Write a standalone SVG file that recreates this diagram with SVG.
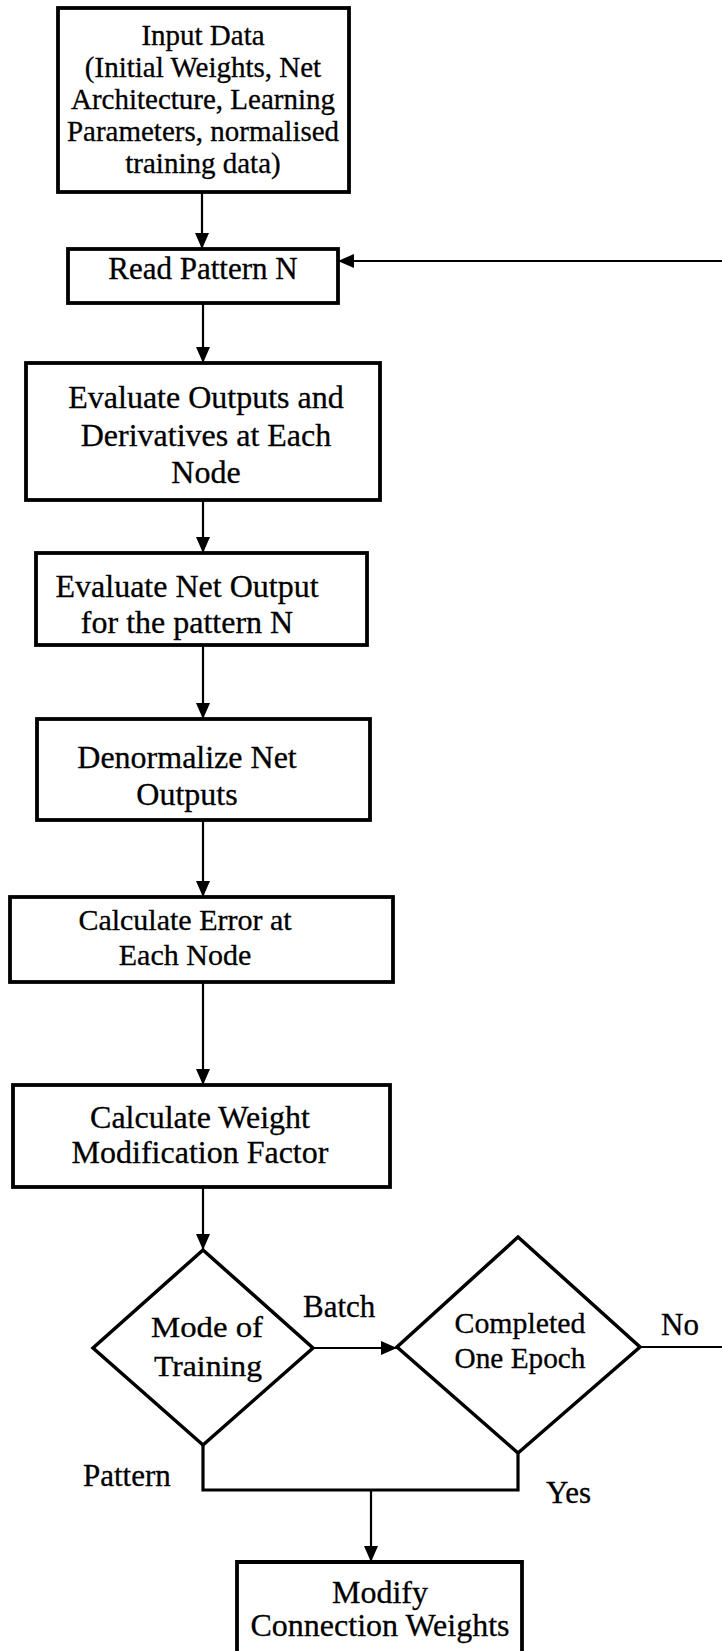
<svg xmlns="http://www.w3.org/2000/svg" width="722" height="1651" viewBox="0 0 722 1651">
  <defs>
    <style>
      .box { fill: #fff; stroke: #000; stroke-width: 3.8; }
      .dia { fill: #fff; stroke: #000; stroke-width: 3.5; stroke-linejoin: miter; }
      .wire { fill: none; stroke: #000; stroke-width: 2.2; }
      .wire-thick { fill: none; stroke: #000; stroke-width: 3.2; }
      text { font-family: "Liberation Serif", "Times New Roman", serif; fill: #000; stroke: #000; stroke-width: 0.3; }
      .t29 { font-size: 29px; text-anchor: middle; }
      .t30 { font-size: 30px; text-anchor: middle; }
      .t31 { font-size: 31px; text-anchor: middle; }
      .t32 { font-size: 32px; text-anchor: middle; }
      .lbl { font-size: 31px; }
    </style>
    <marker id="arrow" viewBox="0 0 16 14" refX="16" refY="7" markerWidth="16" markerHeight="14" markerUnits="userSpaceOnUse" orient="auto">
      <path d="M0,0 L16,7 L0,14 Z" fill="#000"/>
    </marker>
  </defs>

  <rect width="722" height="1651" fill="#fff"/>

  <!-- connectors -->
  <g id="connectors">
    <line class="wire" x1="202" y1="193" x2="202" y2="249" marker-end="url(#arrow)"/>
    <line class="wire" x1="203" y1="303" x2="203" y2="363" marker-end="url(#arrow)"/>
    <line class="wire" x1="203" y1="500" x2="203" y2="553" marker-end="url(#arrow)"/>
    <line class="wire" x1="203" y1="645" x2="203" y2="719" marker-end="url(#arrow)"/>
    <line class="wire" x1="203" y1="820" x2="203" y2="897" marker-end="url(#arrow)"/>
    <line class="wire" x1="203" y1="982" x2="203" y2="1085" marker-end="url(#arrow)"/>
    <line class="wire" x1="203" y1="1187" x2="203" y2="1250" marker-end="url(#arrow)"/>
    <!-- Batch branch -->
    <line class="wire" x1="313" y1="1348" x2="397" y2="1348" marker-end="url(#arrow)"/>
    <!-- No branch: back to Read Pattern N -->
    <line class="wire" x1="640" y1="1347" x2="722" y2="1347"/>
    <line class="wire" x1="722" y1="261" x2="338" y2="261" marker-end="url(#arrow)"/>
    <!-- Pattern / Yes merge -->
    <polyline class="wire-thick" points="203,1445 203,1490 518,1490 518,1453"/>
    <line class="wire" x1="371" y1="1490" x2="371" y2="1562" marker-end="url(#arrow)"/>
  </g>

  <g id="input-data">
    <rect class="box" x="58" y="8" width="291" height="184"/>
    <text class="t29" x="203" y="45">Input Data</text>
    <text class="t29" x="203" y="77">(Initial Weights, Net</text>
    <text class="t29" x="203" y="109">Architecture, Learning</text>
    <text class="t29" x="203" y="141">Parameters, normalised</text>
    <text class="t29" x="203" y="173">training data)</text>
  </g>

  <g id="read-pattern">
    <rect class="box" x="68" y="249" width="270" height="54"/>
    <text class="t31" x="203" y="279">Read Pattern N</text>
  </g>

  <g id="evaluate-outputs">
    <rect class="box" x="26" y="363" width="354" height="137"/>
    <text class="t32" x="206" y="408">Evaluate Outputs and</text>
    <text class="t32" x="206" y="446">Derivatives at Each</text>
    <text class="t32" x="206" y="483">Node</text>
  </g>

  <g id="evaluate-net">
    <rect class="box" x="36" y="553" width="331" height="92"/>
    <text class="t32" x="187" y="597">Evaluate Net Output</text>
    <text class="t32" x="187" y="633">for the pattern N</text>
  </g>

  <g id="denormalize">
    <rect class="box" x="37" y="719" width="333" height="101"/>
    <text class="t32" x="187" y="768">Denormalize Net</text>
    <text class="t32" x="187" y="805">Outputs</text>
  </g>

  <g id="calculate-error">
    <rect class="box" x="10" y="897" width="383" height="85"/>
    <text class="t30" x="185" y="930">Calculate Error at</text>
    <text class="t30" x="185" y="965">Each Node</text>
  </g>

  <g id="calculate-weight">
    <rect class="box" x="13" y="1085" width="377" height="102"/>
    <text class="t32" x="200" y="1128">Calculate Weight</text>
    <text class="t32" x="200" y="1163">Modification Factor</text>
  </g>

  <g id="mode-of-training">
    <polygon class="dia" points="203,1250 313,1348 203,1445 93,1348"/>
    <text class="t30" x="207" y="1337" textLength="112" lengthAdjust="spacingAndGlyphs">Mode of</text>
    <text class="t30" x="208" y="1376" textLength="108" lengthAdjust="spacingAndGlyphs">Training</text>
  </g>

  <g id="completed-epoch">
    <polygon class="dia" points="518,1237 640,1347 518,1453 397,1347"/>
    <text class="t30" x="520" y="1333" textLength="131" lengthAdjust="spacingAndGlyphs">Completed</text>
    <text class="t30" x="520" y="1368" textLength="131" lengthAdjust="spacingAndGlyphs">One Epoch</text>
  </g>

  <g id="modify-weights">
    <path class="box" d="M237,1665 L237,1562 L522,1562 L522,1665"/>
    <text class="t32" x="380" y="1603">Modify</text>
    <text class="t32" x="380" y="1636">Connection Weights</text>
  </g>

  <g id="edge-labels">
    <text class="lbl" x="303" y="1317">Batch</text>
    <text class="lbl" x="661" y="1335">No</text>
    <text class="lbl" x="83" y="1486">Pattern</text>
    <text class="lbl" x="546" y="1503">Yes</text>
  </g>
</svg>
